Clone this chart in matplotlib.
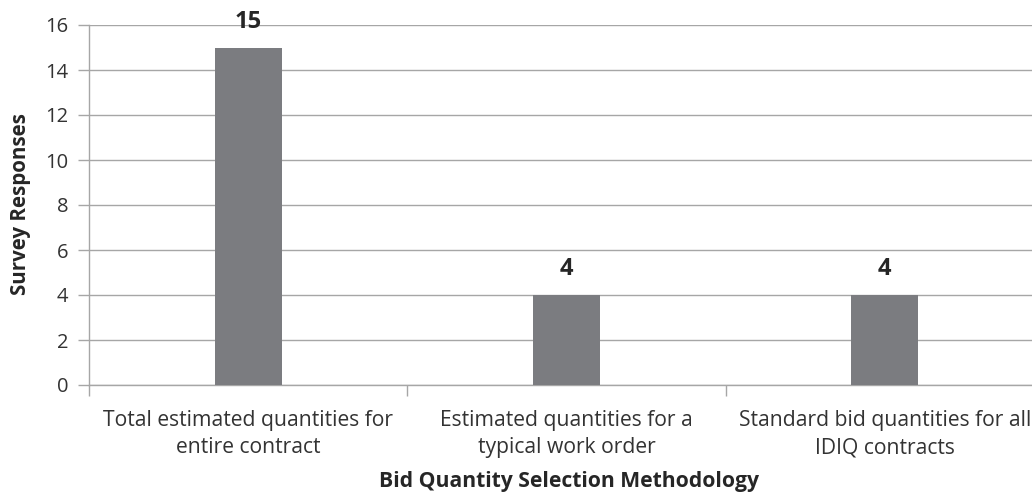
import matplotlib
matplotlib.use("Agg")
import matplotlib.pyplot as plt

categories = [
    "Total estimated quantities for\nentire contract",
    "Estimated quantities for a\ntypical work order",
    "Standard bid quantities for all\nIDIQ contracts",
]
responses = [15, 4, 4]
y_ticks = [0, 2, 4, 6, 8, 10, 12, 14, 16]

plt.rcParams["font.family"] = ["Open Sans", "DejaVu Sans"]

fig = plt.figure(figsize=(10.32, 4.97), dpi=100)
ax = fig.add_axes([89 / 1032, 1 - 385 / 497, (1044 - 89) / 1032, (385 - 25) / 497])

x = list(range(len(categories)))
bars = ax.bar(x, responses, width=0.21, color="#7b7c80", zorder=3)

for xi, v in zip(x, responses):
    ax.annotate(str(v), (xi, v), xytext=(0, 10), textcoords="offset points",
                ha="center", va="bottom", fontsize=17, fontweight="bold", color="#262626")

ax.set_xlim(-0.5, len(categories) - 0.5)
ax.set_ylim(0, 16)
ax.set_yticks(y_ticks)
ax.set_yticklabels([str(t) for t in y_ticks], fontsize=14.5, color="#333333")
ax.set_xticks(x)
ax.set_xticklabels(categories, fontsize=15.2, color="#333333", linespacing=1.4)
ax.tick_params(axis="x", length=0, pad=18)
ax.tick_params(axis="y", length=8, color="#a6a6a6", width=1, pad=7)

# category boundary ticks below the baseline
ax.set_xticks([i - 0.5 for i in range(len(categories) + 1)], minor=True)
ax.tick_params(axis="x", which="minor", length=8, color="#a6a6a6", width=1)

ax.grid(axis="y", color="#a6a6a6", linewidth=1, zorder=0)
for side in ["top", "right"]:
    ax.spines[side].set_visible(False)
for side in ["left", "bottom"]:
    ax.spines[side].set_color("#a6a6a6")
    ax.spines[side].set_linewidth(1)

fig.text(21 / 1032, 1 - 204 / 497, "Survey Responses", rotation=90, ha="center", va="center",
         fontsize=14.8, fontweight="bold", color="#262626")
fig.text(569 / 1032, 1 - 481 / 497, "Bid Quantity Selection Methodology", ha="center", va="center",
         fontsize=15.2, fontweight="bold", color="#262626")

fig.savefig("out.png", dpi=100)
